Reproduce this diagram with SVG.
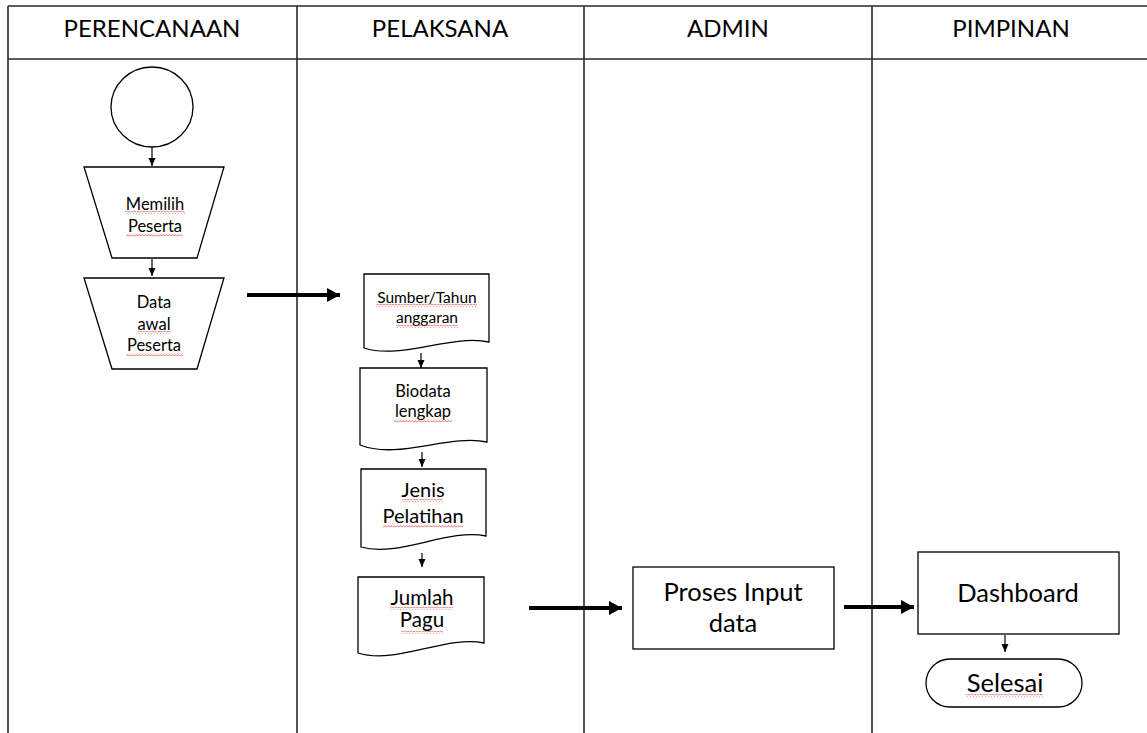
<svg xmlns="http://www.w3.org/2000/svg" width="1147" height="733" viewBox="0 0 1147 733">
<style>
.bg{fill:#fff}
.grid{stroke:#2a2a2a;stroke-width:1.6;fill:none}
.shape{fill:#fff;stroke:#000;stroke-width:1.3}
.t{font-family:Lato,"Open Sans","Liberation Sans",sans-serif;fill:#000;text-anchor:middle}
.hd{font-size:24px}
.thin{stroke:#000;stroke-width:1.2;fill:none}
.thick{stroke:#000;stroke-width:4;fill:none}
.sq{fill:url(#squig)}
</style>
<defs>
<marker id="ah" viewBox="0 0 8 8" refX="8" refY="4" markerWidth="8" markerHeight="8" markerUnits="userSpaceOnUse" orient="auto">
<path d="M0,0.5 L8,4 L0,7.5 Z" fill="#000"/>
</marker>
<marker id="ahb" viewBox="0 0 13 14" refX="13" refY="7" markerWidth="13" markerHeight="14" markerUnits="userSpaceOnUse" orient="auto">
<path d="M0,0 L13,7 L0,14 Z" fill="#000"/>
</marker>
<pattern id="squig" width="3" height="3" patternUnits="userSpaceOnUse">
<path d="M0,2.4 L1.5,0.6 L3,2.4" fill="none" stroke="#e03c3c" stroke-width="0.7"/>
</pattern>
</defs>
<rect class="bg" x="0" y="0" width="1147" height="733"/>
<g id="lanes">
<path class="grid" d="M8,6 H1147 M8,59 H1147 M8,6 V733 M297,6 V733 M584,6 V733 M872,6 V733"/>
<text class="t hd" x="152" y="37">PERENCANAAN</text>
<text class="t hd" x="440" y="37">PELAKSANA</text>
<text class="t hd" x="728" y="37">ADMIN</text>
<text class="t hd" x="1011" y="37">PIMPINAN</text>
</g>
<g id="start">
<ellipse class="shape" cx="152" cy="107" rx="41" ry="40"/>
</g>
<g id="memilih">
<path class="shape" d="M84,167 H224 L197,258 H112 Z"/>
<text class="t" font-size="16.5" x="155" y="210">Memilih</text>
<text class="t" font-size="16.5" x="155" y="232">Peserta</text>
<rect class="sq" x="125" y="211" width="60" height="3"/>
<rect class="sq" x="126" y="234" width="57" height="3"/>
</g>
<g id="dataawal">
<path class="shape" d="M84,278 H224 L197,369 H112 Z"/>
<text class="t" font-size="16.5" x="154" y="308">Data</text>
<text class="t" font-size="16.5" x="154" y="330">awal</text>
<text class="t" font-size="16.5" x="154" y="351">Peserta</text>
<rect class="sq" x="138" y="331" width="33" height="3"/>
<rect class="sq" x="126" y="353" width="57" height="3"/>
</g>
<g id="sumber">
<path class="shape" d="M364,274 H489 V342 C451,334 401,360 364,348 Z"/>
<text class="t" font-size="15.5" x="427" y="303">Sumber/Tahun</text>
<text class="t" font-size="15.5" x="427" y="323">anggaran</text>
<rect class="sq" x="376" y="304" width="101" height="3"/>
<rect class="sq" x="396" y="325" width="62" height="3"/>
</g>
<g id="biodata">
<path class="shape" d="M360,368 H487 V442 C449,434 398,460 360,445 Z"/>
<text class="t" font-size="16.5" x="423" y="397">Biodata</text>
<text class="t" font-size="16.5" x="423" y="417">lengkap</text>
<rect class="sq" x="394" y="419" width="58" height="3"/>
</g>
<g id="jenis">
<path class="shape" d="M361,469 H486 V536 C448,528 398,558 361,547 Z"/>
<text class="t" font-size="20" x="423" y="497">Jenis</text>
<text class="t" font-size="20" x="423" y="523">Pelatihan</text>
<rect class="sq" x="402" y="499" width="41" height="3"/>
<rect class="sq" x="383" y="525" width="80" height="3"/>
</g>
<g id="jumlah">
<path class="shape" d="M358,577 H484 V643 C446,635 396,665 358,653 Z"/>
<text class="t" font-size="20.5" x="422" y="605">Jumlah</text>
<text class="t" font-size="20.5" x="422" y="627">Pagu</text>
<rect class="sq" x="390" y="607" width="63" height="3"/>
<rect class="sq" x="401" y="631" width="42" height="3"/>
</g>
<g id="proses">
<rect class="shape" x="633" y="567" width="201" height="82"/>
<text class="t" font-size="25.5" x="733" y="601">Proses Input</text>
<text class="t" font-size="25.5" x="733" y="632">data</text>
</g>
<g id="dashboard">
<rect class="shape" x="918" y="552" width="201" height="82"/>
<text class="t" font-size="25.5" x="1018" y="602">Dashboard</text>
</g>
<g id="selesai">
<rect class="shape" x="926" y="659" width="156" height="48" rx="24" ry="24"/>
<text class="t" font-size="25.5" x="1005" y="692">Selesai</text>
<rect class="sq" x="966" y="694" width="77" height="3"/>
</g>
<g id="connectors">
<line class="thin" x1="152" y1="147" x2="152" y2="166" marker-end="url(#ah)"/>
<line class="thin" x1="152" y1="259" x2="152" y2="276" marker-end="url(#ah)"/>
<line class="thick" x1="247" y1="295" x2="340" y2="295" marker-end="url(#ahb)"/>
<line class="thin" x1="421" y1="353" x2="421" y2="368" marker-end="url(#ah)"/>
<line class="thin" x1="422" y1="452" x2="422" y2="467" marker-end="url(#ah)"/>
<line class="thin" x1="422" y1="553" x2="422" y2="567" marker-end="url(#ah)"/>
<line class="thick" x1="529" y1="608" x2="622" y2="608" marker-end="url(#ahb)"/>
<line class="thick" x1="844" y1="607" x2="914" y2="607" marker-end="url(#ahb)"/>
<line class="thin" x1="1005" y1="635" x2="1005" y2="652" marker-end="url(#ah)"/>
</g>
</svg>
